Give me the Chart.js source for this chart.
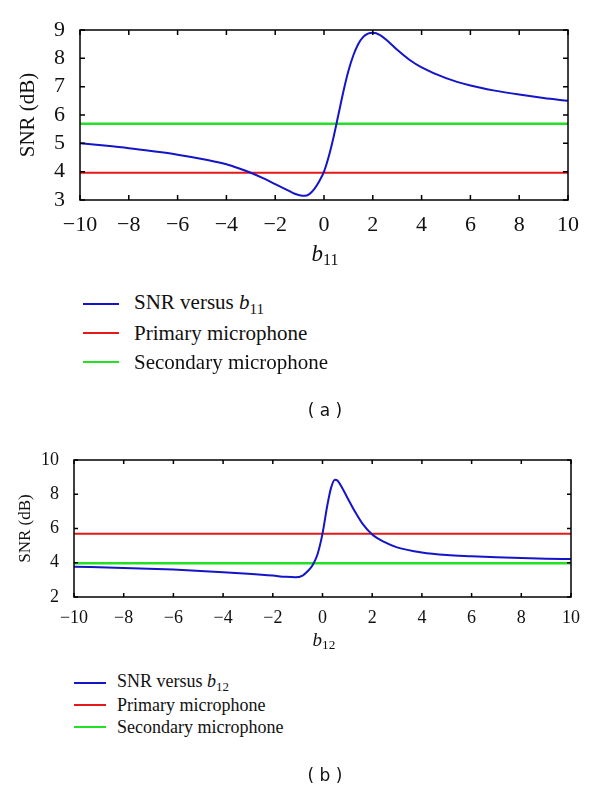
<!DOCTYPE html>
<html>
<head>
<meta charset="utf-8">
<script src="https://cdn.jsdelivr.net/npm/chart.js@4.4.1/dist/chart.umd.min.js"></script>
<style>
  body { margin: 0; background: #fff; width: 600px; height: 791px; position: relative; overflow: hidden; }
  canvas { position: absolute; left: 0; }
  .ttl { position: absolute; font-family: "Liberation Serif", serif; color: #111; transform: translate(-50%, -50%); white-space: nowrap; }
  .ttl sub { font-size: 70%; vertical-align: -0.3em; font-style: normal; }
  .legend { position: absolute; left: 0; top: 0; font-family: "Liberation Serif", serif; color: #111; }
  .legend .ln { position: absolute; height: 0; border-top: 2px solid; }
  .legend .tx { position: absolute; transform: translateY(-50%); white-space: nowrap; }
  .legend sub { font-size: 72%; vertical-align: -0.3em; }
  .cap { position: absolute; font-family: "DejaVu Sans", sans-serif; font-size: 17px; color: #111; transform: translate(-50%, -50%); white-space: pre; }
</style>
</head>
<body>
<canvas id="chartA" width="600" height="245" style="top:0"></canvas>
<canvas id="chartB" width="600" height="200" style="top:430px"></canvas>

<div class="ttl" style="left:325px; top:255px; font-size:23px"><i>b</i><sub>11</sub></div>
<div class="ttl" style="left:324px; top:641px; font-size:19px"><i>b</i><sub>12</sub></div>
<div class="legend" id="legendA"></div>
<div class="legend" id="legendB"></div>
<div class="cap" style="left:325px; top:410px">( a )</div>
<div class="cap" style="left:325px; top:775px">( b )</div>

<script>
// chart (a): SNR versus b11
const xA = [-10, -9, -8, -7, -6, -5, -4.5, -4, -3.5, -3, -2.5, -2, -1.5, -1.2, -1, -0.8, -0.6, -0.4, -0.2, 0,
            0.2, 0.4, 0.6, 0.8, 1.0, 1.2, 1.4, 1.6, 1.8, 2.0, 2.3, 2.6, 3.0, 3.5, 4, 5, 6, 7, 8, 9, 10];
const snrA = [5.0, 4.92, 4.83, 4.72, 4.6, 4.45, 4.36, 4.26, 4.12, 3.96, 3.77, 3.56, 3.35, 3.22, 3.17, 3.15, 3.21, 3.38, 3.65, 4.0,
              4.55, 5.25, 6.05, 6.85, 7.55, 8.1, 8.5, 8.75, 8.87, 8.9, 8.82, 8.62, 8.3, 7.95, 7.68, 7.3, 7.04, 6.86, 6.72, 6.6, 6.5];
const primaryA = 3.96;
const secondaryA = 5.69;

// chart (b): SNR versus b12
const xB = [-10, -8, -6, -4, -3, -2, -1.5, -1.1, -0.8, -0.6, -0.4, -0.2, 0, 0.2, 0.35, 0.5, 0.6, 0.8,
            1.0, 1.3, 1.6, 2, 2.5, 3, 4, 5, 6, 7, 8, 9, 10];
const snrB = [3.77, 3.7, 3.6, 3.45, 3.36, 3.25, 3.18, 3.15, 3.25, 3.5, 3.85, 4.5, 5.7, 7.4, 8.4, 8.85, 8.8, 8.35,
              7.8, 7.0, 6.3, 5.65, 5.2, 4.9, 4.6, 4.45, 4.38, 4.32, 4.28, 4.24, 4.22];
const primaryB = 5.69;
const secondaryB = 3.97;

const xRange = [-10, 10];
const legendNames = [['SNR versus ', 'b'], ['Primary microphone'], ['Secondary microphone']];
const colors = ['#1414c8', '#e41a1a', '#22e022'];

const frameTicks = {
  id: 'frameTicks',
  afterDatasetsDraw(chart, args, opts) {
    const { ctx, chartArea: a, scales: { x, y } } = chart;
    const len = opts.len;
    ctx.save();
    ctx.strokeStyle = '#000';
    ctx.lineWidth = 1.5;
    ctx.strokeRect(a.left, a.top, a.right - a.left, a.bottom - a.top);
    ctx.beginPath();
    x.ticks.forEach(t => {
      const px = x.getPixelForValue(t.value);
      ctx.moveTo(px, a.bottom); ctx.lineTo(px, a.bottom - len);
      ctx.moveTo(px, a.top); ctx.lineTo(px, a.top + len);
    });
    y.ticks.forEach(t => {
      const py = y.getPixelForValue(t.value);
      ctx.moveTo(a.left, py); ctx.lineTo(a.left + len, py);
      ctx.moveTo(a.right, py); ctx.lineTo(a.right - len, py);
    });
    ctx.stroke();
    ctx.restore();
  }
};

const minus = v => (v < 0 ? '\u2212' + Math.abs(v) : '' + v);

function makeChart(id, xs, ys, prim, sec, cfg) {
  const flat = v => xRange.map(x => ({ x: x, y: v }));
  const font = { family: '"Liberation Serif", serif', size: cfg.fontSize };
  return new Chart(document.getElementById(id), {
    type: 'line',
    data: {
      datasets: [
        { label: 'SNR', data: xs.map((x, i) => ({ x: x, y: ys[i] })), borderColor: colors[0], borderWidth: 2, cubicInterpolationMode: 'monotone' },
        { label: 'Primary microphone', data: flat(prim), borderColor: colors[1], borderWidth: 2 },
        { label: 'Secondary microphone', data: flat(sec), borderColor: colors[2], borderWidth: 2.5 }
      ]
    },
    options: {
      responsive: false,
      animation: false,
      events: [],
      elements: { point: { radius: 0 } },
      layout: { padding: cfg.padding },
      plugins: { legend: { display: false }, tooltip: { enabled: false }, frameTicks: { len: cfg.tickLen } },
      scales: {
        x: {
          type: 'linear', min: -10, max: 10,
          grid: { display: false }, border: { display: false },
          ticks: { stepSize: 2, autoSkip: false, color: '#111', font: font, padding: cfg.xPad, callback: minus, maxRotation: 0 },
          afterFit: s => { s.height = cfg.xHeight; }
        },
        y: {
          min: cfg.yMin, max: cfg.yMax,
          grid: { display: false }, border: { display: false },
          ticks: { stepSize: cfg.yStep, autoSkip: false, color: '#111', font: font, padding: cfg.yPad },
          title: { display: true, text: 'SNR (dB)', color: '#111', font: { family: font.family, size: cfg.titleSize }, padding: { top: cfg.titlePad, bottom: 0 } },
          afterFit: s => { s.width = cfg.yWidth; }
        }
      }
    },
    plugins: [frameTicks]
  });
}

makeChart('chartA', xA, snrA, primaryA, secondaryA, {
  fontSize: 22, titleSize: 21, padding: { top: 30, right: 32, left: 0, bottom: 0 },
  xHeight: 45, yWidth: 80, xPad: 4, yPad: 7, titlePad: 16, tickLen: 5,
  yMin: 3, yMax: 9, yStep: 1
});
makeChart('chartB', xB, snrB, primaryB, secondaryB, {
  fontSize: 18, titleSize: 17, padding: { top: 30, right: 29, left: 0, bottom: 0 },
  xHeight: 33, yWidth: 74, xPad: 2, yPad: 7, titlePad: 15, tickLen: 4,
  yMin: 2, yMax: 10, yStep: 2
});

function buildLegend(id, sub, o) {
  const box = document.getElementById(id);
  legendNames.forEach((n, i) => {
    const y = o.top + i * o.gap;
    const ln = document.createElement('div');
    ln.className = 'ln';
    ln.style.cssText = `left:${o.lineX}px; width:${o.lineW}px; top:${y - 1}px; border-color:${colors[i]}`;
    const tx = document.createElement('div');
    tx.className = 'tx';
    tx.style.cssText = `left:${o.textX}px; top:${y}px; font-size:${o.size}px`;
    tx.innerHTML = n.length > 1 ? `${n[0]}<i>${n[1]}</i><sub>${sub}</sub>` : n[0];
    box.appendChild(ln);
    box.appendChild(tx);
  });
}
buildLegend('legendA', '11', { top: 304, gap: 29, lineX: 83, lineW: 36, textX: 134, size: 21 });
buildLegend('legendB', '12', { top: 683, gap: 22, lineX: 74, lineW: 32, textX: 117, size: 18 });
</script>
</body>
</html>
